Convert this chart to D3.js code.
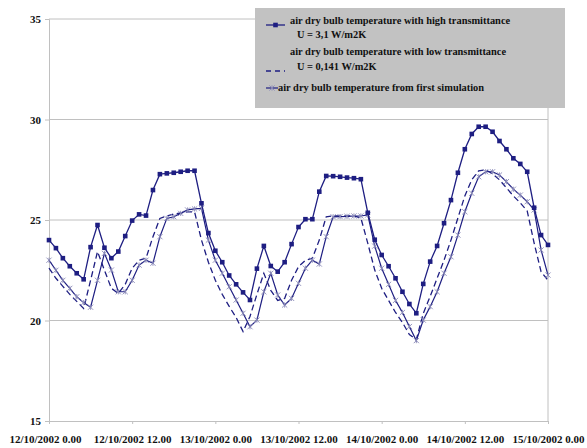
<!DOCTYPE html>
<html>
<head>
<meta charset="utf-8">
<script src="https://cdn.jsdelivr.net/npm/d3@7"></script>
<style>
body { margin: 0; background: #fff; }
svg text { font-family: "Liberation Serif", "Times New Roman", serif; font-weight: bold; fill: #111; }
</style>
</head>
<body>
<div id="chart"></div>
<script>
// hourly values, 12/10/2002 0.00 -> 15/10/2002 0.00
var hours = d3.range(0, 73);

var highTrans = [24.0, 23.6, 23.1, 22.7, 22.35, 22.05, 23.65, 24.75, 23.62, 23.1, 23.43, 24.2,
  24.97, 25.28, 25.22, 26.49, 27.28, 27.32, 27.35, 27.4, 27.45, 27.45, 25.83, 24.35,
  23.47, 22.9, 22.24, 21.8, 21.4, 21.02, 22.58, 23.71, 22.71, 22.43, 22.9, 23.8,
  24.65, 25.04, 25.04, 26.41, 27.19, 27.18, 27.15, 27.11, 27.08, 27.03, 25.36, 24.02,
  23.26, 22.7, 22.1, 21.43, 20.82, 20.36, 21.82, 22.93, 23.71, 24.84, 25.99, 27.35,
  28.52, 29.28, 29.64, 29.64, 29.39, 28.93, 28.52, 28.07, 27.79, 27.4, 25.61, 24.25, 23.76];

var lowTrans = [22.6, 22.1, 21.7, 21.3, 20.95, 20.6, 22.0, 23.43, 22.5, 21.6, 21.35, 21.8,
  22.6, 23.0, 23.1, 24.17, 25.08, 25.2, 25.3, 25.35, 25.4, 25.41, 24.0, 22.9,
  22.0, 21.3, 20.7, 20.15, 19.45, 20.2, 21.3, 22.35, 21.5, 21.0, 21.1, 22.0,
  22.68, 23.0, 23.1, 24.0, 25.16, 25.2, 25.2, 25.2, 25.2, 25.1, 23.84, 22.51,
  21.6, 21.0, 20.4, 19.9, 19.3, 19.05, 20.35, 21.2, 22.1, 23.0, 24.0, 25.1,
  26.2, 27.0, 27.45, 27.5, 27.3, 27.0, 26.6, 26.2, 25.85, 25.45, 23.85, 22.43, 22.0];

var firstSim = [23.0, 22.5, 22.0, 21.6, 21.18, 20.89, 20.66, 22.0, 23.34, 22.51, 21.43, 21.43,
  22.0, 22.76, 23.0, 22.85, 24.17, 25.08, 25.16, 25.33, 25.5, 25.55, 25.58, 24.0,
  23.0, 22.35, 21.68, 21.02, 20.36, 19.69, 20.02, 21.43, 22.35, 21.27, 20.77, 21.1,
  21.85, 22.6, 23.0, 22.81, 24.17, 25.16, 25.17, 25.18, 25.2, 25.2, 25.25, 23.7,
  22.6, 21.8, 21.0, 20.4, 19.7, 19.0, 20.02, 20.69, 21.43, 22.35, 23.17, 24.25,
  25.41, 26.33, 27.15, 27.4, 27.4, 27.24, 26.91, 26.53, 26.24, 25.91, 25.5, 23.51, 22.26];

var xTickHours = [0, 12, 24, 36, 48, 60, 72];
var xTickLabels = ["12/10/2002 0.00", "12/10/2002 12.00", "13/10/2002 0.00", "13/10/2002 12.00",
  "14/10/2002 0.00", "14/10/2002 12.00", "15/10/2002 0.00"];
var yTicks = [15, 20, 25, 30, 35];

var legendLabels = [
  ["air dry bulb temperature with high transmittance", "U = 3,1 W/m2K"],
  ["air dry bulb temperature with low transmittance", "U = 0,141 W/m2K"],
  ["air dry bulb temperature from first simulation"]
];

const W = 587, H = 448;
const margin = {top: 19, right: 39, bottom: 27, left: 49};
const lineColor = "#1e1e82";
const gridColor = "#c0c0c0";
const fontFam = '"Liberation Serif", "Times New Roman", serif';

var svg = d3.select("#chart").append("svg")
  .attr("width", W).attr("height", H)
  .attr("font-family", fontFam);

var x_scale = d3.scaleLinear().domain([0, 72]).range([margin.left, W - margin.right]);
var y_scale = d3.scaleLinear().domain([15, 35]).range([H - margin.bottom, margin.top]);

// grid lines
svg.append("g").selectAll("line")
  .data(yTicks.slice(1))
  .join("line")
  .attr("x1", margin.left).attr("x2", W - margin.right)
  .attr("y1", d => y_scale(d)).attr("y2", d => y_scale(d))
  .attr("stroke", gridColor).attr("stroke-width", 1);

// right border
svg.append("line")
  .attr("x1", W - margin.right).attr("x2", W - margin.right)
  .attr("y1", margin.top).attr("y2", H - margin.bottom)
  .attr("stroke", gridColor);

// y axis
var yAxis = svg.append("g")
  .attr("transform", `translate(${margin.left},0)`)
  .call(d3.axisLeft(y_scale).tickValues(yTicks).tickSize(4).tickFormat(d3.format("d")));
yAxis.attr("font-family", fontFam);
yAxis.selectAll("path, line").attr("stroke", gridColor);
yAxis.selectAll("text").attr("font-size", "11px").attr("dx", "-1");

// x axis
var xAxis = svg.append("g")
  .attr("transform", `translate(0,${H - margin.bottom})`)
  .call(d3.axisBottom(x_scale).tickValues(xTickHours).tickSize(3)
    .tickFormat((d, i) => xTickLabels[i]));
xAxis.attr("font-family", fontFam);
xAxis.select(".domain").attr("stroke", gridColor);
xAxis.selectAll("line").attr("stroke", gridColor);
xAxis.selectAll("text").attr("font-size", "11px").attr("y", 14);
// end labels sit a little inward, as in the original
xAxis.selectAll(".tick text").attr("dx", (d, i) => i === 0 ? -4 : 0);

var line = d3.line()
  .x((d, i) => x_scale(hours[i]))
  .y(d => y_scale(d));

// low transmittance - dashed, no markers
svg.append("path")
  .datum(lowTrans)
  .attr("fill", "none")
  .attr("stroke", lineColor)
  .attr("stroke-width", 1.3)
  .attr("stroke-dasharray", "6,3.5")
  .attr("d", line);

// first simulation - solid with star markers
svg.append("path")
  .datum(firstSim)
  .attr("fill", "none")
  .attr("stroke", lineColor)
  .attr("stroke-width", 1.2)
  .attr("d", line);

function starPath(cx, cy, r) {
  return `M${cx - r},${cy - r}L${cx + r},${cy + r}M${cx - r},${cy + r}L${cx + r},${cy - r}` +
    `M${cx},${cy - r}L${cx},${cy + r}`;
}

svg.append("g").selectAll("path")
  .data(firstSim)
  .join("path")
  .attr("d", (d, i) => starPath(x_scale(hours[i]), y_scale(d), 2.6))
  .attr("stroke", "#8a8ab8")
  .attr("stroke-width", 0.9)
  .attr("fill", "none");

// high transmittance - solid with squares
svg.append("path")
  .datum(highTrans)
  .attr("fill", "none")
  .attr("stroke", lineColor)
  .attr("stroke-width", 1.3)
  .attr("d", line);

svg.append("g").selectAll("rect")
  .data(highTrans)
  .join("rect")
  .attr("x", (d, i) => x_scale(hours[i]) - 2.3)
  .attr("y", d => y_scale(d) - 2.3)
  .attr("width", 4.6).attr("height", 4.6)
  .attr("fill", lineColor);

// legend
var legend = svg.append("g");
legend.append("rect")
  .attr("x", 255).attr("y", 8).attr("width", 310).attr("height", 100)
  .attr("fill", "#c2c2c2");

legend.append("line")
  .attr("x1", 266).attr("x2", 285).attr("y1", 25).attr("y2", 25)
  .attr("stroke", lineColor).attr("stroke-width", 1.3);
legend.append("rect")
  .attr("x", 273.2).attr("y", 22.7).attr("width", 4.6).attr("height", 4.6)
  .attr("fill", lineColor);

legend.append("line")
  .attr("x1", 266).attr("x2", 285).attr("y1", 71).attr("y2", 71)
  .attr("stroke", lineColor).attr("stroke-width", 1.3)
  .attr("stroke-dasharray", "5,4");

legend.append("line")
  .attr("x1", 266).attr("x2", 278).attr("y1", 88).attr("y2", 88)
  .attr("stroke", lineColor).attr("stroke-width", 1.2);
legend.append("path")
  .attr("d", starPath(272, 88, 2.6))
  .attr("stroke", "#8a8ab8").attr("stroke-width", 0.9).attr("fill", "none");

var legendText = [
  {t: legendLabels[0][0], x: 290, y: 24},
  {t: legendLabels[0][1], x: 297, y: 38},
  {t: legendLabels[1][0], x: 290, y: 55},
  {t: legendLabels[1][1], x: 297, y: 70},
  {t: legendLabels[2][0], x: 278, y: 91}
];
legend.selectAll("text.lbl")
  .data(legendText)
  .join("text")
  .attr("class", "lbl")
  .attr("x", d => d.x).attr("y", d => d.y)
  .attr("font-size", "10.4px")
  .text(d => d.t);
</script>
</body>
</html>
